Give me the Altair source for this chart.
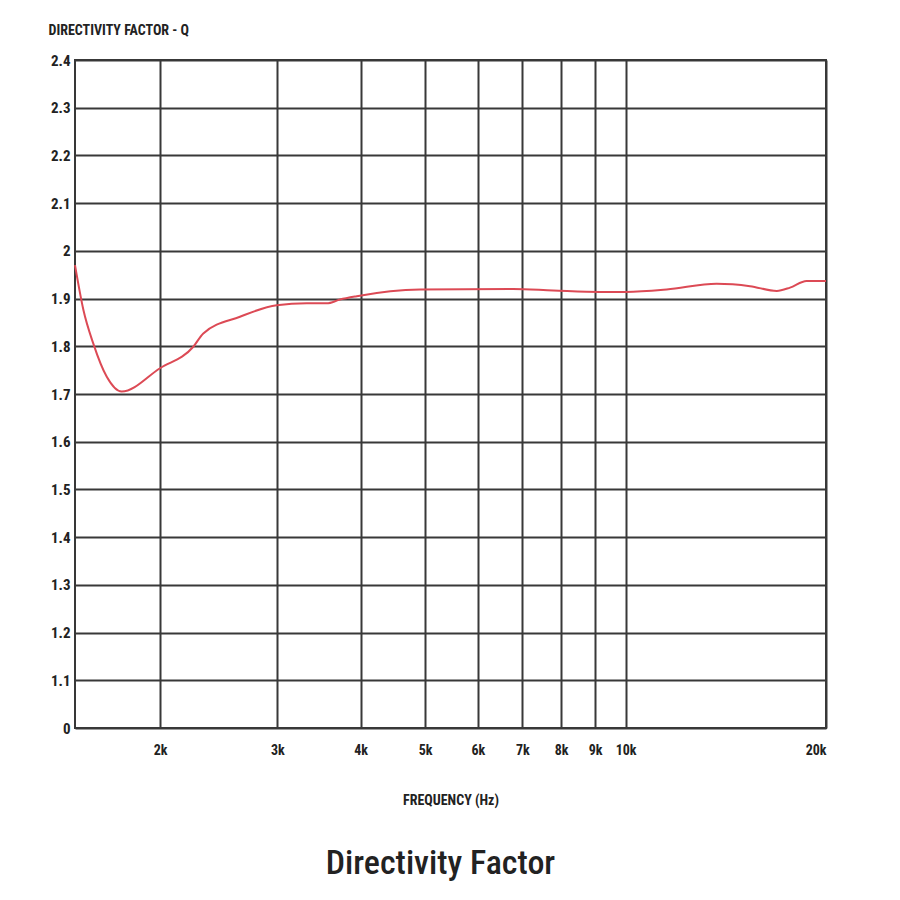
import altair as alt
import pandas as pd

freq = [1490, 1534, 1587, 1663, 1751, 1999, 2243, 2322, 2636, 2993, 3320, 3558,
        3725, 3947, 4913, 6777, 7782, 9155, 10016, 11530, 13700, 15380, 16870,
        17660, 18700, 20000]
q = [1.970, 1.876, 1.806, 1.736, 1.705, 1.754, 1.799, 1.827, 1.862, 1.886, 1.890,
     1.890, 1.898, 1.905, 1.919, 1.920, 1.917, 1.914, 1.914, 1.919, 1.931, 1.926,
     1.916, 1.923, 1.937, 1.937]

x_ticks = [2000, 3000, 4000, 5000, 6000, 7000, 8000, 9000, 10000, 20000]
y_ticks = [round(1.0 + i * 0.1, 1) for i in range(15)]

df = pd.DataFrame({"freq": freq, "q": q})

FONT = "Roboto Condensed, Liberation Sans Narrow, Roboto, sans-serif"
GRID = "#383838"

chart = alt.Chart(df).mark_line(
    color="#dc4a55", strokeWidth=2, interpolate="monotone"
).encode(
    x=alt.X("freq:Q",
            scale=alt.Scale(type="log", domain=[1490, 20000], nice=False),
            axis=alt.Axis(values=x_ticks,
                          labelExpr="datum.value / 1000 + 'k'",
                          grid=True, gridColor=GRID, gridWidth=2, gridOpacity=1,
                          ticks=False, domain=False,
                          labelFont=FONT, labelFontSize=14, labelFontWeight="bold",
                          labelColor="#222", labelPadding=15,
                          title="FREQUENCY (Hz)", titleFont=FONT, titleFontSize=14,
                          titleFontWeight="bold", titleColor="#222", titlePadding=36)),
    y=alt.Y("q:Q",
            scale=alt.Scale(domain=[1.0, 2.4], nice=False, zero=False),
            axis=alt.Axis(values=y_ticks,
                          labelExpr="datum.value < 1.05 ? '0' : toString(round(datum.value * 10) / 10)",
                          grid=True, gridColor=GRID, gridWidth=2, gridOpacity=1,
                          ticks=False, domain=False,
                          labelFont=FONT, labelFontSize=15, labelFontWeight="bold",
                          labelColor="#222", labelPadding=5,
                          title="DIRECTIVITY FACTOR - Q", titleFont=FONT, titleFontSize=14,
                          titleFontWeight="bold", titleColor="#222",
                          titleAngle=0, titleAlign="left", titleBaseline="middle",
                          titleX=-27, titleY=-30)),
).properties(
    width=751, height=668,
    padding={"left": 67, "top": 52, "right": 60, "bottom": 165},
    autosize=alt.AutoSizeParams(type="none"),
    title=alt.TitleParams("Directivity Factor", orient="bottom", anchor="middle",
                          font=FONT, fontSize=34, fontWeight=500,
                          color="#222", offset=40, dx=-10),
).configure_view(stroke=GRID, strokeWidth=2)

chart.save("out.html", embed_options={"renderer": "svg", "actions": False})
